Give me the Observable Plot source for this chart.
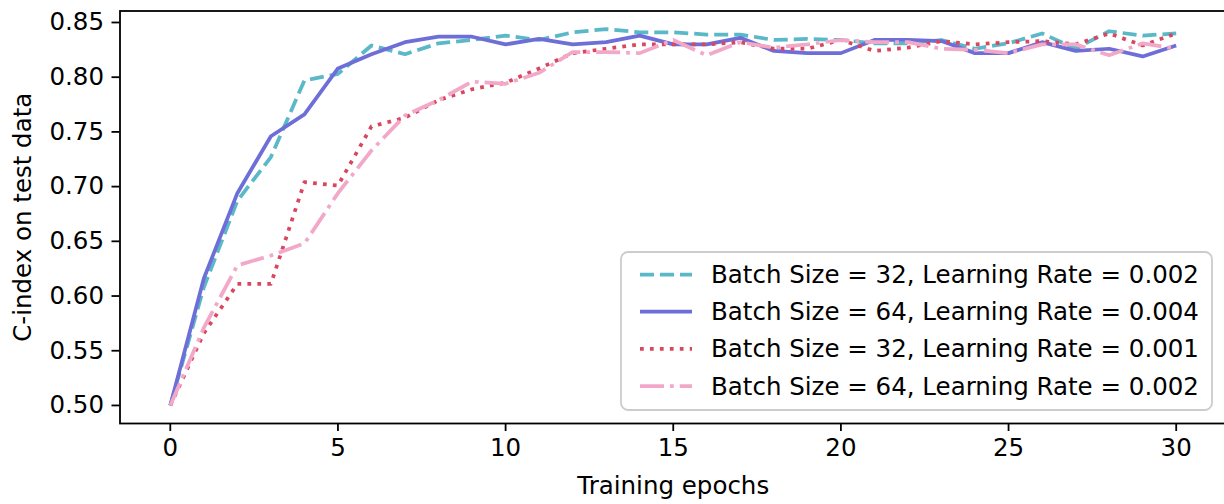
<!DOCTYPE html>
<html>
<head>
<meta charset="utf-8">
<script src="https://cdn.jsdelivr.net/npm/d3@7"></script>
<script src="https://cdn.jsdelivr.net/npm/@observablehq/plot@0.6"></script>
<style>
  html, body { margin: 0; padding: 0; background: #fff; }
  #chart svg { display: block; font-family: "DejaVu Sans", sans-serif; }
</style>
</head>
<body>
<div id="chart"></div>
<script>
const epochs = [0,1,2,3,4,5,6,7,8,9,10,11,12,13,14,15,16,17,18,19,20,21,22,23,24,25,26,27,28,29,30];

const bs32_lr002 = [0.500,0.608,0.687,0.727,0.797,0.803,0.829,0.821,0.831,0.834,0.838,0.834,0.841,0.844,0.841,0.841,0.839,0.839,0.834,0.835,0.834,0.831,0.831,0.834,0.826,0.831,0.840,0.826,0.842,0.838,0.840];
const bs64_lr004 = [0.500,0.616,0.694,0.746,0.766,0.808,0.821,0.832,0.837,0.837,0.830,0.835,0.830,0.832,0.838,0.830,0.830,0.836,0.824,0.822,0.822,0.834,0.834,0.833,0.822,0.822,0.832,0.824,0.826,0.819,0.829];
const bs32_lr001 = [0.500,0.566,0.611,0.611,0.704,0.701,0.755,0.763,0.779,0.789,0.795,0.808,0.822,0.826,0.830,0.830,0.830,0.832,0.826,0.826,0.834,0.824,0.827,0.833,0.830,0.832,0.833,0.830,0.840,0.829,0.840];
const bs64_lr002 = [0.500,0.571,0.628,0.637,0.648,0.694,0.733,0.765,0.779,0.796,0.794,0.804,0.823,0.823,0.822,0.834,0.820,0.832,0.827,0.830,0.834,0.832,0.832,0.826,0.825,0.822,0.830,0.830,0.820,0.831,0.826];

const seriesNames = [
  "Batch Size = 32, Learning Rate = 0.002",
  "Batch Size = 64, Learning Rate = 0.004",
  "Batch Size = 32, Learning Rate = 0.001",
  "Batch Size = 64, Learning Rate = 0.002"
];
const seriesValues = [bs32_lr002, bs64_lr004, bs32_lr001, bs64_lr002];
const seriesColors = ["#5bb8c8", "#6e6ed8", "#d9475f", "#f2a9c9"];
const seriesDash = ["14,6", null, "3.75,6.2", "24,6,3.75,6"];

const xTicks = [0,5,10,15,20,25,30];
const yTicks = [0.50,0.55,0.60,0.65,0.70,0.75,0.80,0.85];
const xLabel = "Training epochs";
const yLabel = "C-index on test data";

const FS = 24.5;
const LW = 3.75;

const lineMarks = seriesValues.map((vals, i) => {
  const rows = epochs.map((e, j) => ({epoch: e, value: vals[j]}));
  return Plot.line(rows, {
    x: "epoch", y: "value",
    stroke: seriesColors[i],
    strokeWidth: LW,
    strokeDasharray: seriesDash[i] || undefined,
    strokeLinejoin: "round",
    strokeLinecap: "butt"
  });
});

const chart = Plot.plot({
  width: 1224,
  height: 504,
  marginLeft: 119.5,
  marginRight: -2,
  marginTop: 10.5,
  marginBottom: 81,
  style: {fontFamily: "DejaVu Sans", fontSize: FS + "px", color: "#000", background: "#fff"},
  x: {domain: [-1.5, 31.5]},
  y: {domain: [0.4835, 0.8605]},
  marks: [
    ...lineMarks,
    Plot.frame({stroke: "#000", strokeWidth: 1.8}),
    Plot.axisX(xTicks, {tickSize: 8, tickPadding: 7, fontSize: FS, label: null, tickFormat: d3.format("d"), strokeWidth: 1.8}),
    Plot.axisY(yTicks, {tickSize: 8, tickPadding: 8, fontSize: FS, label: null, tickFormat: d3.format(".2f"), strokeWidth: 1.8}),
    Plot.text([xLabel], {text: d => d, frameAnchor: "bottom", dy: 70, fontSize: FS, fill: "#000", textAnchor: "middle"}),
    Plot.text([yLabel], {text: d => d, frameAnchor: "left", dx: -97, rotate: -90, fontSize: FS, fill: "#000", textAnchor: "middle"})
  ]
});

document.getElementById("chart").appendChild(chart);

// Legend (drawn on top of the lines, like matplotlib's)
const svg = d3.select(chart);
const lg = svg.append("g").attr("class", "legend").attr("text-anchor", "start");
lg.append("rect")
  .attr("x", 621).attr("y", 252).attr("width", 591).attr("height", 158)
  .attr("rx", 7).attr("ry", 7)
  .attr("fill", "#fff").attr("fill-opacity", 0.8)
  .attr("stroke", "#cccccc").attr("stroke-width", 1.8);
seriesNames.forEach((name, i) => {
  const cy = 274.5 + i * 37.2;
  lg.append("line")
    .attr("x1", 640).attr("x2", 692).attr("y1", cy).attr("y2", cy)
    .attr("stroke", seriesColors[i]).attr("stroke-width", LW)
    .attr("stroke-dasharray", seriesDash[i])
    .attr("stroke-linecap", "butt");
  lg.append("text")
    .attr("x", 711).attr("y", cy).attr("dy", "0.35em")
    .attr("text-anchor", "start")
    .attr("font-size", FS).attr("font-family", "DejaVu Sans")
    .attr("fill", "#000")
    .text(name);
});
</script>
</body>
</html>
